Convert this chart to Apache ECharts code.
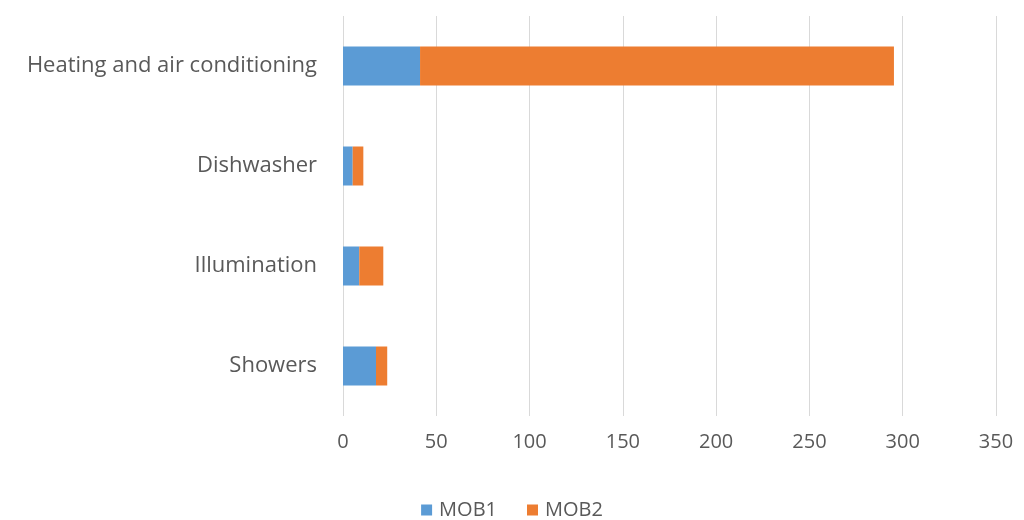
<!DOCTYPE html>
<html>
<head>
<meta charset="utf-8">
<script src="https://cdn.jsdelivr.net/npm/echarts@6/dist/echarts.min.js"></script>
<style>
  html, body { margin: 0; padding: 0; background: #ffffff; }
  #chart { width: 1024px; height: 520px; }
</style>
</head>
<body>
<div id="chart"></div>
<script>
// Energy use per appliance category, stacked by building
const categories = ['Showers', 'Illumination', 'Dishwasher', 'Heating and air conditioning'];
const mob1 = [17.7, 8.7, 5.2, 41.3];
const mob2 = [6, 12.9, 5.7, 254];
const xTicks = { min: 0, max: 350, interval: 50 };

const textColor = '#595959';
const fontFamily = '"Open Sans", "Liberation Sans", sans-serif';

const chart = echarts.init(document.getElementById('chart'), null, { renderer: 'canvas' });
chart.setOption({
  animation: false,
  backgroundColor: '#ffffff',
  textStyle: { fontFamily: fontFamily },
  grid: { left: 343, right: 28, top: 16, bottom: 104, containLabel: false },
  legend: {
    top: 495,
    left: 'center',
    itemWidth: 11,
    itemHeight: 11,
    itemGap: 30,
    icon: 'rect',
    textStyle: { color: textColor, fontSize: 20, fontFamily: fontFamily, padding: [0, 0, 0, 2] },
    data: ['MOB1', 'MOB2']
  },
  xAxis: {
    type: 'value',
    min: xTicks.min,
    max: xTicks.max,
    interval: xTicks.interval,
    axisLine: { show: false },
    axisTick: { show: false },
    axisLabel: { color: textColor, fontSize: 20, margin: 16 },
    splitLine: { lineStyle: { color: '#d9d9d9', width: 1 } }
  },
  yAxis: {
    type: 'category',
    data: categories,
    axisLine: { show: false },
    axisTick: { show: false },
    axisLabel: { color: textColor, fontSize: 22, margin: 26 }
  },
  series: [
    {
      name: 'MOB1',
      type: 'bar',
      stack: 'total',
      barWidth: 39,
      itemStyle: { color: '#5b9bd5' },
      data: mob1
    },
    {
      name: 'MOB2',
      type: 'bar',
      stack: 'total',
      barWidth: 39,
      itemStyle: { color: '#ed7d31' },
      data: mob2
    }
  ]
});
</script>
</body>
</html>
